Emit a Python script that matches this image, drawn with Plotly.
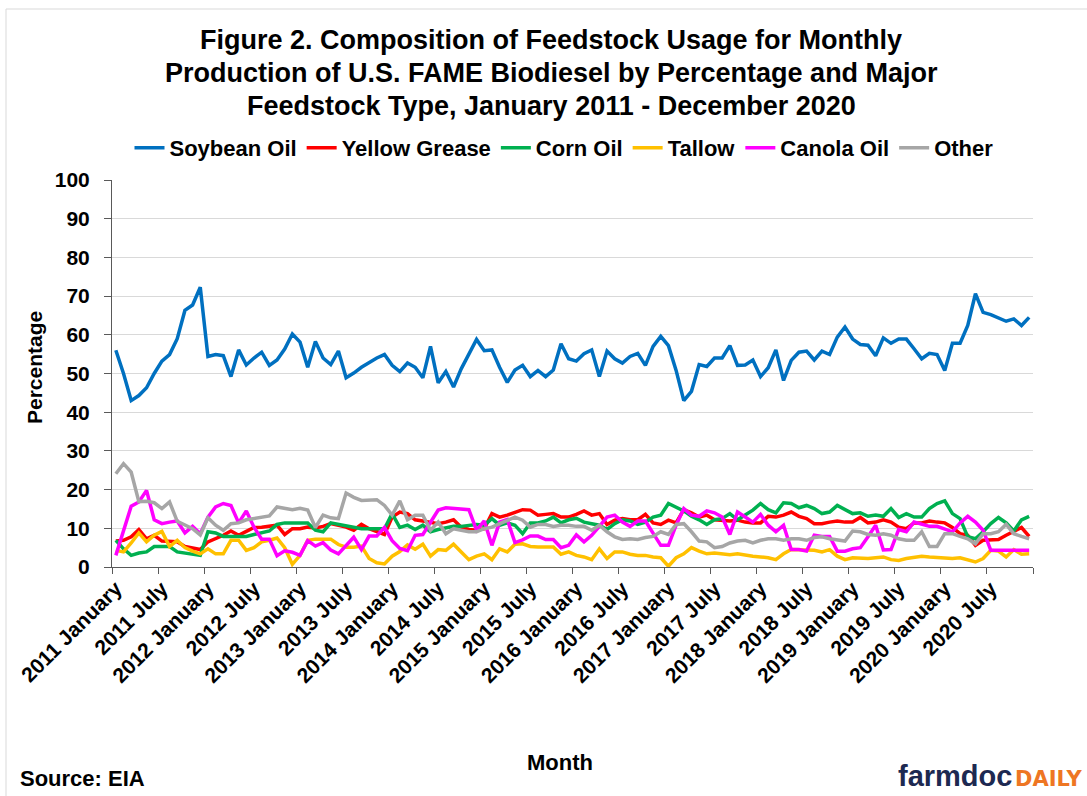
import plotly.graph_objects as go

# ---------------- data ----------------
years = list(range(2011, 2021))
month_names = ["January", "February", "March", "April", "May", "June",
               "July", "August", "September", "October", "November", "December"]
months = [f"{y} {m}" for y in years for m in month_names]

soybean_oil = [
    56.0, 50.0, 43.0, 44.3, 46.3, 50.0, 53.2, 54.9, 59.0, 66.3, 67.7, 72.3,
    54.4, 54.9, 54.6, 49.2, 56.1, 52.2, 54.0, 55.5, 52.1, 53.5, 56.3, 60.2,
    58.1, 51.6, 58.3, 54.0, 52.3, 55.8, 48.9, 50.1, 51.6, 52.8, 54.0, 54.9,
    52.1, 50.5, 52.7, 51.6, 48.9, 57.0, 47.6, 50.5, 46.5, 51.2, 55.1, 58.8,
    55.9, 56.1, 51.6, 47.7, 50.9, 52.1, 49.2, 50.8, 49.2, 50.9, 57.7, 53.8,
    53.2, 55.1, 56.1, 49.2, 55.8, 53.8, 52.7, 54.4, 55.2, 52.1, 57.0, 59.6,
    57.2, 50.8, 43.0, 45.4, 52.3, 51.8, 54.0, 54.0, 57.2, 52.1, 52.2, 53.5,
    49.2, 51.5, 56.1, 48.2, 53.4, 55.5, 55.8, 53.5, 55.8, 54.9, 59.4, 62.0,
    58.9, 57.5, 57.3, 54.6, 59.2, 57.8, 58.9, 58.9, 56.4, 53.8, 55.2, 54.9,
    50.8, 57.8, 57.8, 62.4, 70.6, 65.8, 65.2, 64.3, 63.5, 64.1, 62.4, 64.5,
]
yellow_grease = [
    6.7, 6.9, 7.8, 9.7, 7.3, 8.2, 6.7, 6.7, 6.5, 5.3, 5.0, 4.5,
    6.5, 7.3, 8.2, 9.3, 8.2, 9.2, 10.2, 10.3, 10.5, 10.8, 8.4, 9.9,
    9.9, 10.3, 10.1, 10.5, 11.2, 10.8, 10.3, 9.5, 11.0, 9.9, 9.1, 8.4,
    12.9, 14.2, 13.8, 12.2, 11.9, 11.6, 11.2, 11.6, 12.2, 10.3, 9.7, 9.5,
    9.9, 13.8, 12.9, 13.4, 14.2, 14.8, 14.7, 13.4, 13.6, 13.8, 12.9, 12.9,
    13.6, 14.5, 13.4, 13.8, 11.0, 12.1, 12.5, 12.2, 12.2, 13.6, 11.4, 11.0,
    12.1, 11.4, 14.8, 14.0, 12.9, 13.4, 12.2, 12.1, 11.9, 12.1, 11.6, 11.4,
    11.4, 13.1, 12.9, 13.4, 14.2, 13.1, 12.5, 11.2, 11.2, 11.6, 11.9, 11.6,
    11.6, 12.8, 11.4, 11.6, 12.2, 11.6, 10.3, 9.9, 11.4, 11.4, 11.9, 11.6,
    11.4, 10.2, 8.6, 8.2, 5.6, 6.9, 7.1, 7.1, 8.2, 9.1, 10.2, 7.9,
]
corn_oil = [
    6.9, 4.7, 3.0, 3.6, 3.9, 5.3, 5.3, 5.3, 3.9, 3.6, 3.4, 3.0,
    9.1, 8.8, 7.9, 7.9, 7.8, 7.9, 8.4, 8.8, 9.3, 11.0, 11.4, 11.4,
    11.4, 11.4, 9.5, 9.1, 11.4, 11.0, 10.8, 10.2, 9.9, 9.9, 9.9, 9.9,
    13.8, 10.2, 10.8, 9.7, 10.8, 9.1, 9.7, 10.2, 10.5, 10.5, 10.8, 11.0,
    10.8, 12.5, 10.8, 11.4, 10.8, 8.6, 11.4, 11.4, 11.9, 12.9, 11.4, 12.2,
    12.6, 11.6, 11.2, 10.8, 9.7, 11.2, 12.2, 11.9, 11.0, 11.6, 12.9, 13.4,
    16.4, 15.5, 14.5, 13.1, 12.2, 11.0, 12.2, 12.5, 13.8, 12.2, 13.4, 14.7,
    16.4, 14.8, 14.0, 16.6, 16.4, 15.3, 15.9, 15.1, 13.8, 14.2, 15.9, 14.8,
    13.8, 14.0, 13.1, 13.4, 13.1, 15.1, 12.8, 13.8, 12.9, 12.9, 15.1, 16.4,
    17.1, 13.8, 12.5, 7.8, 7.3, 9.1, 11.2, 12.8, 11.4, 9.3, 12.2, 13.1,
]
tallow = [
    4.3, 3.9, 6.2, 8.8, 6.5, 8.2, 9.2, 5.3, 6.9, 5.0, 4.1, 3.4,
    4.7, 3.4, 3.4, 6.9, 6.9, 4.3, 5.0, 6.5, 6.9, 7.5, 5.0, 0.7,
    3.0, 6.9, 7.2, 7.2, 7.2, 5.8, 5.1, 5.1, 5.4, 2.2, 1.1, 0.8,
    2.8, 4.0, 5.7, 4.6, 5.9, 2.8, 4.5, 4.3, 5.9, 3.9, 1.9, 2.8,
    3.4, 1.9, 4.7, 3.9, 5.9, 6.0, 5.3, 5.2, 5.3, 5.2, 3.3, 3.9,
    3.0, 2.6, 1.9, 4.7, 2.2, 3.9, 3.9, 3.3, 3.0, 3.0, 2.6, 2.4,
    0.2, 2.4, 3.4, 5.0, 4.1, 3.4, 3.6, 3.4, 3.2, 3.4, 3.0, 2.8,
    2.6, 2.4, 1.9, 3.4, 4.5, 4.5, 4.5, 4.3, 3.9, 4.5, 2.8, 1.9,
    2.4, 2.2, 2.2, 2.4, 2.6, 1.9, 1.7, 2.2, 2.4, 2.8, 2.6, 2.4,
    2.4, 2.2, 2.4, 1.9, 1.3, 2.2, 4.3, 4.1, 2.6, 4.5, 3.3, 3.4,
]
canola_oil = [
    3.0, 9.1, 15.7, 16.8, 19.8, 12.2, 11.2, 11.6, 11.9, 8.8, 10.5, 8.6,
    12.9, 15.5, 16.4, 15.9, 11.4, 14.5, 10.3, 7.2, 7.2, 2.9, 4.2, 3.8,
    3.0, 6.8, 5.4, 6.3, 4.4, 3.4, 5.6, 7.7, 4.5, 8.0, 8.0, 10.2,
    6.8, 4.8, 4.2, 8.2, 8.4, 11.4, 14.7, 15.3, 15.1, 15.1, 14.8, 9.5,
    11.9, 5.6, 11.6, 12.3, 6.3, 7.0, 8.0, 8.0, 7.1, 7.1, 5.0, 5.6,
    8.3, 6.5, 8.2, 10.5, 12.9, 13.4, 11.6, 10.5, 11.9, 11.9, 8.6, 5.6,
    5.6, 10.8, 15.1, 13.4, 13.1, 14.5, 14.0, 12.9, 8.4, 14.2, 12.9, 11.6,
    13.6, 10.8, 9.1, 10.8, 4.5, 4.5, 4.1, 8.2, 7.9, 7.9, 4.1, 4.1,
    4.7, 5.0, 7.8, 10.8, 4.4, 4.5, 9.7, 9.1, 11.6, 11.0, 10.5, 10.5,
    9.9, 9.1, 11.4, 13.1, 11.6, 9.5, 4.3, 4.3, 4.3, 4.3, 4.3, 4.3,
]
other = [
    24.1, 26.7, 24.5, 16.9, 17.0, 16.6, 15.1, 16.8, 11.8, 10.8, 9.9, 8.3,
    12.7, 10.8, 9.5, 11.2, 11.4, 12.2, 12.5, 12.8, 13.2, 15.5, 15.2, 14.8,
    15.2, 14.7, 10.2, 13.4, 12.7, 12.5, 19.1, 18.0, 17.2, 17.2, 17.4, 15.9,
    13.4, 17.1, 12.2, 13.4, 13.4, 9.5, 11.6, 8.6, 9.9, 9.5, 9.1, 9.1,
    9.9, 10.3, 11.2, 12.1, 12.9, 12.1, 10.3, 11.0, 11.0, 10.5, 10.8, 10.8,
    10.5, 10.5, 9.5, 10.8, 9.1, 7.8, 7.1, 7.3, 7.1, 7.6, 7.9, 9.1,
    8.4, 11.0, 11.2, 9.1, 6.7, 6.5, 5.0, 5.3, 6.2, 6.7, 6.9, 6.2,
    6.9, 7.3, 7.3, 6.9, 7.3, 7.3, 6.9, 7.6, 7.8, 7.3, 6.9, 6.7,
    9.3, 9.1, 8.4, 8.2, 8.6, 8.2, 7.3, 6.9, 6.9, 9.1, 5.3, 5.3,
    8.6, 8.6, 7.9, 7.3, 6.0, 8.6, 8.6, 9.1, 11.0, 8.6, 7.9, 7.3,
]

series_names = ["Soybean Oil", "Yellow Grease", "Corn Oil", "Tallow", "Canola Oil", "Other"]
series_values = [soybean_oil, yellow_grease, corn_oil, tallow, canola_oil, other]
series_colors = ["#0070C0", "#FF0000", "#00B050", "#FFC000", "#FF00FF", "#A6A6A6"]

y_ticks = list(range(0, 101, 10))

title_lines = [
    "Figure 2. Composition of Feedstock Usage for Monthly",
    "Production of U.S. FAME Biodiesel by Percentage and Major",
    "Feedstock Type, January 2011 - December 2020",
]

# ---------------- layout geometry (pixels) ----------------
W, H = 1087, 796
PL, PR, PT, PB = 112, 1033, 180, 567  # plot area edges


def px_x(x):
    return (x - PL) / (PR - PL)


def px_y(y):
    return (PB - y) / (PB - PT)


FONT = "Liberation Sans, Arial, sans-serif"

fig = go.Figure()
for name, vals, col in zip(series_names, series_values, series_colors):
    fig.add_trace(go.Scatter(
        x=months, y=vals, mode="lines", name=name,
        line=dict(color=col, width=3.5),
    ))

fig.update_layout(
    width=W, height=H, autosize=False,
    margin=dict(l=PL, r=W - PR, t=PT, b=H - PB, pad=0),
    paper_bgcolor="white", plot_bgcolor="white",
    font=dict(family=FONT, color="black"),
    showlegend=True,
    legend=dict(
        orientation="h", x=px_x(564), xanchor="center",
        y=px_y(148), yanchor="middle",
        font=dict(family=FONT, size=22, color="black", weight="bold"),
        bgcolor="rgba(0,0,0,0)", itemwidth=30, traceorder="normal",
    ),
    xaxis=dict(
        type="category", range=[-0.5, len(months) - 0.5],
        tickmode="linear", tick0=0, dtick=6,
        tickson="boundaries", ticks="outside", ticklen=6,
        tickcolor="#595959", tickwidth=1,
        tickangle=-45,
        tickfont=dict(family=FONT, size=21, color="black", weight="bold"),
        showline=True, linecolor="#595959", linewidth=1,
        showgrid=False, zeroline=False,
    ),
    yaxis=dict(
        range=[0, 100], tickmode="array", tickvals=y_ticks,
        ticktext=[str(v) for v in y_ticks],
        ticks="outside", ticklen=7, tickcolor="#595959", tickwidth=1,
        ticklabelstandoff=10,
        tickfont=dict(family=FONT, size=21, color="black", weight="bold"),
        showline=True, linecolor="#595959", linewidth=1,
        showgrid=True, gridcolor="#D9D9D9", gridwidth=1,
        zeroline=False,
    ),
)

annotations = []
for line, yc in zip(title_lines, [40, 73, 106]):
    annotations.append(dict(
        text=line, x=px_x(551), y=px_y(yc), xanchor="center", yanchor="middle",
        font=dict(family=FONT, size=27, color="black", weight="bold")))

annotations += [
    dict(text="Percentage", textangle=-90,
         x=px_x(34), y=px_y(368), xanchor="center", yanchor="middle",
         font=dict(family=FONT, size=21, color="black", weight="bold")),
    dict(text="Month",
         x=px_x(560), y=px_y(762), xanchor="center", yanchor="middle",
         font=dict(family=FONT, size=22, color="black", weight="bold")),
    dict(text="Source: EIA",
         x=px_x(18), y=px_y(778), xanchor="left", yanchor="middle",
         font=dict(family=FONT, size=22, color="black", weight="bold")),
    dict(text="farmdoc",
         x=px_x(1014), y=px_y(776), xanchor="right", yanchor="middle",
         font=dict(family=FONT, size=29, color="#1D2951", weight="bold")),
    dict(text="DAILY",
         x=px_x(1013), y=px_y(779), xanchor="left", yanchor="middle",
         font=dict(family="DejaVu Sans, sans-serif", size=21, color="#EE7623",
                   weight="bold")),
]
for a in annotations:
    a.update(xref="paper", yref="paper", showarrow=False)
fig.update_layout(annotations=annotations)

fig.add_shape(type="rect", xref="paper", yref="paper",
              x0=px_x(6), x1=px_x(1092), y0=px_y(805), y1=px_y(9),
              line=dict(color="#D9D9D9", width=1), fillcolor="rgba(0,0,0,0)",
              layer="below")

fig.write_html(
    "out.html",
    config={"displayModeBar": False},
    post_script="document.body.style.margin='0px';document.body.style.overflow='hidden';",
)
